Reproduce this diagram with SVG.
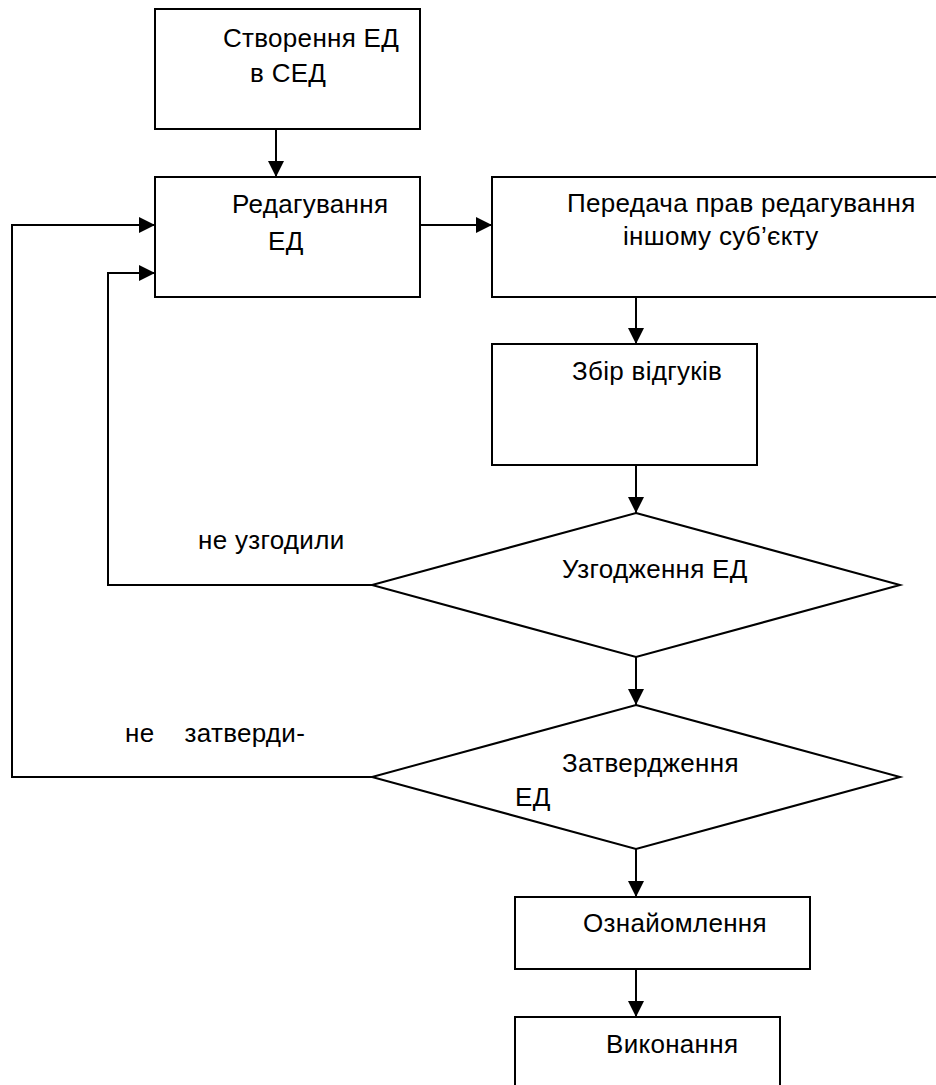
<svg xmlns="http://www.w3.org/2000/svg" width="936" height="1085" viewBox="0 0 936 1085">
<style>
.box{fill:#fff;stroke:#000;stroke-width:2}
.dia{fill:#fff;stroke:#000;stroke-width:2}
.ln{fill:none;stroke:#000;stroke-width:2}
text{font-family:"Liberation Sans",Arial,sans-serif;font-size:26px;letter-spacing:0.3px;fill:#000;white-space:pre}
</style>
<defs>
<marker id="ah" markerWidth="16" markerHeight="16" viewBox="0 0 16 16" refX="16" refY="8" orient="auto" markerUnits="userSpaceOnUse">
<path d="M0,0 L16,8 L0,16 Z" fill="#000"/>
</marker>
</defs>
<g id="connectors">
<line class="ln" x1="276" y1="129" x2="276" y2="177" marker-end="url(#ah)"/>
<line class="ln" x1="420" y1="225" x2="492" y2="225" marker-end="url(#ah)"/>
<line class="ln" x1="636" y1="297" x2="636" y2="344" marker-end="url(#ah)"/>
<line class="ln" x1="636" y1="465" x2="636" y2="513" marker-end="url(#ah)"/>
<line class="ln" x1="636" y1="657" x2="636" y2="705" marker-end="url(#ah)"/>
<line class="ln" x1="636" y1="849" x2="636" y2="897" marker-end="url(#ah)"/>
<line class="ln" x1="636" y1="969" x2="636" y2="1017" marker-end="url(#ah)"/>
<polyline class="ln" points="372,585 108,585 108,273 155,273" marker-end="url(#ah)"/>
<polyline class="ln" points="372,777 12,777 12,225 155,225" marker-end="url(#ah)"/>
<text x="198" y="549">не узгодили</text>
<text x="125" y="742" xml:space="preserve">не    затверди-</text>
</g>
<g id="n1">
<rect class="box" x="155" y="9" width="265" height="120"/>
<text x="223" y="47">Створення ЕД</text>
<text x="250" y="82">в СЕД</text>
</g>
<g id="n2">
<rect class="box" x="155" y="177" width="265" height="120"/>
<text x="232" y="213">Редагування</text>
<text x="268" y="250">ЕД</text>
</g>
<g id="n3">
<rect class="box" x="492" y="177" width="460" height="120"/>
<text x="567" y="212">Передача прав редагування</text>
<text x="623" y="245">іншому суб’єкту</text>
</g>
<g id="n4">
<rect class="box" x="492" y="344" width="265" height="121"/>
<text x="572" y="380">Збір відгуків</text>
</g>
<g id="n5">
<polygon class="dia" points="636,513 900,585 636,657 372,585"/>
<text x="562" y="578">Узгодження ЕД</text>
</g>
<g id="n6">
<polygon class="dia" points="636,705 900,777 636,849 372,777"/>
<text x="562" y="772">Затвердження</text>
<text x="515" y="806">ЕД</text>
</g>
<g id="n7">
<rect class="box" x="515" y="897" width="295" height="72"/>
<text x="583" y="932">Ознайомлення</text>
</g>
<g id="n8">
<rect class="box" x="515" y="1017" width="265" height="90"/>
<text x="606" y="1053">Виконання</text>
</g>
</svg>
